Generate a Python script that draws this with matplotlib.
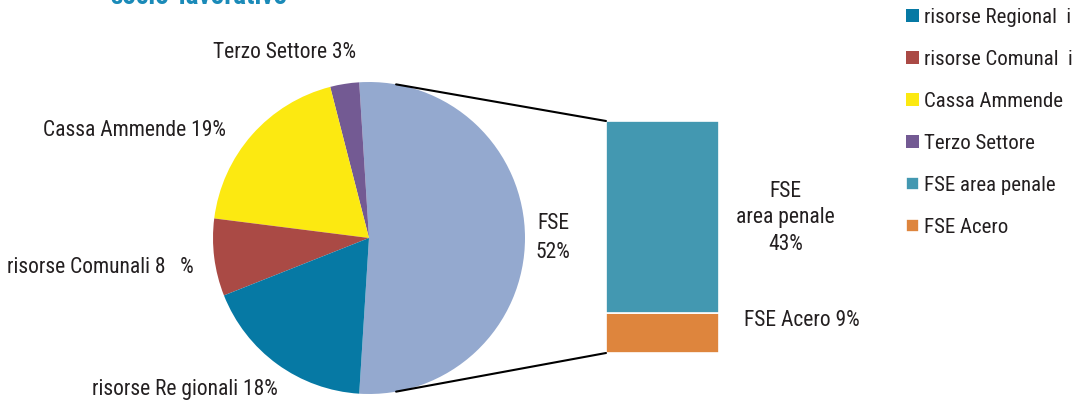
import matplotlib
matplotlib.use('Agg')
import matplotlib.pyplot as plt
from matplotlib.patches import ConnectionPatch
import numpy as np

plt.rcParams['font.family'] = ['Roboto Condensed', 'DejaVu Sans']

# pie data (FSE is split into the bar on the right)
pie_names = ['FSE', 'Terzo Settore', 'Cassa Ammende', 'risorse Comunali', 'risorse Regionali']
pie_values = [52, 3, 19, 8, 18]
pie_colors = ['#94a9cf', '#735a93', '#fce911', '#aa4a45', '#0679a4']
pie_texts = ['FSE\n52%', 'Terzo Settore 3%', 'Cassa Ammende 19%',
             'risorse Comunali 8   %', 'risorse Re gionali 18%']

# bar data, bottom to top
bar_names = ['FSE Acero', 'FSE area penale']
bar_values = [9, 43]
bar_colors = ['#de853d', '#4398b1']
bar_texts = ['FSE Acero 9%', 'FSE\narea penale\n43%']

legend_labels = ['risorse Regional  i', 'risorse Comunal  i', 'Cassa Ammende',
                 'Terzo Settore', 'FSE area penale', 'FSE Acero']

W, H = 1075, 404
fig = plt.figure(figsize=(W / 100, H / 100), dpi=100)
fs = 15.5

# pie axes: center (369, 238) px, radius 156 px
cx, cy, r = 369, 238, 156
lim = 1.3
ax_pie = fig.add_axes([(cx - r * lim) / W, (H - cy - r * lim) / H,
                       2 * r * lim / W, 2 * r * lim / H])
start = -pie_values[0] * 3.6 / 2
wedges, _ = ax_pie.pie(pie_values, colors=pie_colors, startangle=start,
                       counterclock=True, radius=1,
                       wedgeprops=dict(linewidth=0))
ax_pie.set_xlim(-lim, lim)
ax_pie.set_ylim(-lim, lim)
ax_pie.set_aspect('equal')

label_pos = [(1.18, 0.0), (-0.54, 1.19), (-1.50, 0.69), (-1.72, -0.19), (-1.18, -0.97)]
for txt, (x, y) in zip(pie_texts, label_pos):
    ax_pie.text(x, y, txt, ha='center', va='center', fontsize=fs,
                color='#231f20', linespacing=1.45)

# bar axes: x 606-719 px, y 121-353 px
bx0, bx1, by0, by1 = 606, 719, 121, 353
ax_bar = fig.add_axes([bx0 / W, (H - by1) / H, (bx1 - bx0) / W, (by1 - by0) / H])
bottom = 0
bars = []
for v, c in zip(bar_values, bar_colors):
    b = ax_bar.bar(0, v, bottom=bottom, width=1, color=c,
                   edgecolor='white', linewidth=1.2)
    bars.append(b[0])
    bottom += v
ax_bar.set_xlim(-0.5, 0.5)
ax_bar.set_ylim(0, sum(bar_values))
ax_bar.axis('off')

ax_bar.text(1.23, 7.2, bar_texts[0], ha='center', va='center', fontsize=fs,
            color='#231f20')
ax_bar.text(1.09, 30.3, bar_texts[1], ha='center', va='center', fontsize=fs,
            color='#231f20', linespacing=1.33)

# connecting lines
for ang, ybar in [(80, sum(bar_values)), (-80, 0)]:
    p = (np.cos(np.radians(ang)), np.sin(np.radians(ang)))
    con = ConnectionPatch(xyA=(-0.5, ybar), coordsA=ax_bar.transData,
                          xyB=p, coordsB=ax_pie.transData,
                          color='black', linewidth=1.5)
    fig.add_artist(con)

# legend
handles = [wedges[4], wedges[3], wedges[2], wedges[1], bars[1], bars[0]]
fig.legend(handles, legend_labels, loc='upper left',
           bbox_to_anchor=(906 / W, 1 - 8 / H), frameon=False,
           fontsize=15, labelspacing=1.1, handlelength=0.6, handleheight=0.6,
           handletextpad=0.25, borderpad=0, borderaxespad=0,
           labelcolor='#231f20')

# title, cut off at the top edge
fig.text(110 / W, 1 - 4 / H, 'socio-lavorativo', ha='left', va='baseline',
         fontsize=19.5, fontweight='bold', color='#1a8ab8')

fig.savefig('out.png', dpi=100)
